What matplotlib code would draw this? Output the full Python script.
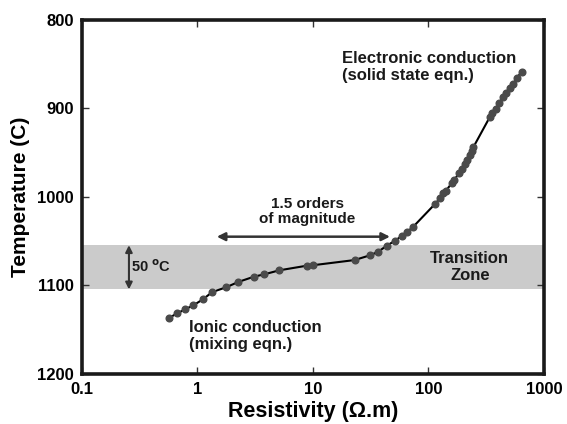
import matplotlib
matplotlib.use("Agg")
import matplotlib.pyplot as plt

plt.rcParams['font.family'] = ['Liberation Sans', 'DejaVu Sans']

# Data (resistivity in ohm.m, temperature in C)
resistivity = [0.57, 0.668, 0.78, 0.92, 1.12, 1.34, 1.77, 2.25, 3.08, 3.77, 5.11,
               8.83, 9.94, 22.96, 31.2, 36.7, 43.5, 51.3, 58.6, 65.5, 73.0,
               113.8, 125.9, 134.4, 141.8, 158.8, 167.2, 184.7, 193.6, 206.9,
               216.6, 228.6, 239.3, 244.4, 341, 352, 384, 411, 445, 469, 508,
               543, 580, 641]
temperature = [1137, 1132, 1127.5, 1123, 1116, 1108, 1102.6, 1096.6, 1090.6, 1088,
               1083.4, 1078.2, 1077.7, 1071.8, 1066.4, 1062.4, 1055.6, 1050,
               1044.6, 1039.8, 1034.8, 1008.5, 1002, 996.4, 993.4, 985.1, 981.4,
               973.1, 969.3, 963.6, 958.8, 953.1, 948.2, 944.4, 909.8, 906,
               901.5, 894.7, 887.2, 882.7, 877.7, 872.9, 866.4, 859]

transition_zone = [1055, 1105]
x_ticks = [0.1, 1, 10, 100, 1000]
x_tick_labels = ['0.1', '1', '10', '100', '1000']
y_ticks = [800, 900, 1000, 1100, 1200]
y_tick_labels = ['800', '900', '1000', '1100', '1200']

fig = plt.figure(figsize=(5.67, 4.24), dpi=100)
ax = fig.add_axes([0.1446, 0.1191, 0.8148, 0.8349])

ax.set_xscale('log')
ax.set_xlim(0.1, 1000)
ax.set_ylim(1200, 800)

ax.axhspan(transition_zone[0], transition_zone[1], color='#cbcbcb', lw=0, zorder=1)

ax.plot(resistivity, temperature, color='black', lw=1.5, zorder=3)
ax.plot(resistivity, temperature, 'o', color='#4a4a4a', ms=4.8, mec='#4a4a4a', zorder=4)

ax.set_xticks(x_ticks)
ax.set_xticklabels(x_tick_labels)
ax.set_yticks(y_ticks)
ax.set_yticklabels(y_tick_labels)
ax.minorticks_off()
ax.tick_params(direction='in', length=5, width=1, top=True, right=True,
               labelsize=12, pad=6, color='#333333')
for lbl in ax.get_xticklabels() + ax.get_yticklabels():
    lbl.set_fontweight('bold')
for s in ax.spines.values():
    s.set_linewidth(2.6)
    s.set_color('#1a1a1a')

ax.set_xlabel('Resistivity (Ω.m)', fontsize=15.5, fontweight='bold', labelpad=3)
ax.set_ylabel('Temperature (C)', fontsize=15, fontweight='bold', labelpad=5)

tkw = dict(fontsize=12, fontweight='bold', color='#1a1a1a')
ax.text(17.8, 853.5, 'Electronic conduction\n(solid state eqn.)', ha='left', va='center',
        linespacing=1.2, **tkw)
ax.text(0.84, 1157.6, 'Ionic conduction\n(mixing eqn.)', ha='left', va='center',
        linespacing=1.2, **tkw)
ax.text(8.9, 1017, '1.5 orders\nof magnitude', ha='center', va='center',
        linespacing=1.15, fontsize=11, fontweight='bold', color='#1a1a1a')
ax.text(228, 1080, 'Transition\nZone', ha='center', va='center',
        linespacing=1.15, fontsize=12, fontweight='bold', color='#1a1a1a')
ax.text(0.265, 1079, r'50 $^{\mathbf{o}}$C', ha='left', va='center', fontsize=10.5,
        fontweight='bold', color='#1a1a1a')

ax.annotate('', xy=(46.4, 1045.4), xytext=(1.47, 1045.4),
            arrowprops=dict(arrowstyle='<|-|>', color='#333333', lw=1.8,
                            mutation_scale=12, shrinkA=0, shrinkB=0), zorder=5)
ax.annotate('', xy=(0.255, 1055), xytext=(0.255, 1105),
            arrowprops=dict(arrowstyle='<|-|>', color='#333333', lw=1.5,
                            mutation_scale=10, shrinkA=0, shrinkB=0), zorder=5)

fig.savefig('out.png', dpi=100)
